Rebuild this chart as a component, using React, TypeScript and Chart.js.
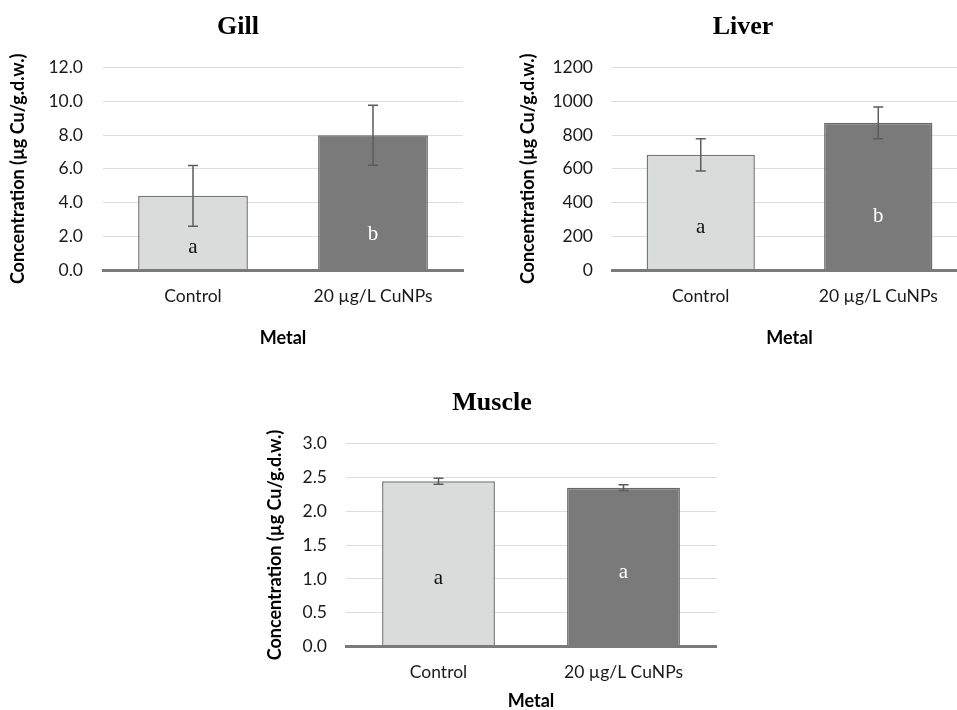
import React, { useEffect, useRef } from 'react';
import { Chart, registerables } from 'chart.js';

Chart.register(...registerables);

// ---------- data ----------
const categories = ['Control', '20 µg/L CuNPs'];
const xAxisTitle = 'Metal';
const yAxisTitle = 'Concentration (µg Cu/g.d.w.)';

const gillTitle = 'Gill';
const gillMeans = [4.4, 8.0];
const gillErrors = [1.8, 1.78];
const gillLetters = ['a', 'b'];
const gillLetterAt = [0.99, 1.78];
const gillScale = { max: 12, step: 2, decimals: 1 };

const liverTitle = 'Liver';
const liverMeans = [683, 873];
const liverErrors = [96, 94];
const liverLetters = ['a', 'b'];
const liverLetterAt = [218, 287];
const liverScale = { max: 1200, step: 200, decimals: 0 };

const muscleTitle = 'Muscle';
const muscleMeans = [2.44, 2.345];
const muscleErrors = [0.045, 0.042];
const muscleLetters = ['a', 'a'];
const muscleLetterAt = [0.925, 1.02];
const muscleScale = { max: 3, step: 0.5, decimals: 1 };

// ---------- styles ----------
const barFills = ['#dadcdb', '#7a7a7a'];
const barBorders = ['#787878', '#6a6a6a'];
const letterColors = ['#111111', '#ffffff'];
const SANS = 'Lato, "Noto Sans", sans-serif';
const SERIF = '"Liberation Serif", "Times New Roman", serif';

type Layout = {
  left: number; top: number; width: number; height: number;
  plotLeft: number; plotRight: number; plotTop: number; plotBottom: number;
  titleX: number; titleY: number; yTitleX: number; tickRight: number; xTickY: number; xTitleY: number;
};

type Spec = {
  title: string; means: number[]; errors: number[]; letters: string[]; letterAt: number[];
  scale: { max: number; step: number; decimals: number };
  layout: Layout;
};

const specs: Spec[] = [
  {
    title: gillTitle, means: gillMeans, errors: gillErrors, letters: gillLetters, letterAt: gillLetterAt, scale: gillScale,
    layout: { left: 0, top: 0, width: 478, height: 360, plotLeft: 103, plotRight: 463, plotTop: 67.7, plotBottom: 270,
      titleX: 238, titleY: 27, yTitleX: 18, tickRight: 83, xTickY: 296, xTitleY: 338 },
  },
  {
    title: liverTitle, means: liverMeans, errors: liverErrors, letters: liverLetters, letterAt: liverLetterAt, scale: liverScale,
    layout: { left: 478, top: 0, width: 489, height: 360, plotLeft: 612, plotRight: 967, plotTop: 67.7, plotBottom: 270,
      titleX: 743, titleY: 27, yTitleX: 528, tickRight: 593, xTickY: 296, xTitleY: 338 },
  },
  {
    title: muscleTitle, means: muscleMeans, errors: muscleErrors, letters: muscleLetters, letterAt: muscleLetterAt, scale: muscleScale,
    layout: { left: 250, top: 380, width: 480, height: 330, plotLeft: 346, plotRight: 716, plotTop: 443.3, plotBottom: 646.7,
      titleX: 492, titleY: 403, yTitleX: 275, tickRight: 327, xTickY: 672, xTitleY: 701.5 },
  },
];

const TITLE_SIZE = 26;
const TICK_SIZE = 17.5;
const AXIS_TITLE_SIZE = 18;

function Panel({ spec }: { spec: Spec }) {
  const ref = useRef<HTMLCanvasElement>(null);
  useEffect(() => {
    const L = spec.layout;
    const plotLeft = L.plotLeft - L.left;
    const plotRight = L.plotRight - L.left;
    const plotTop = L.plotTop - L.top;
    const plotBottom = L.plotBottom - L.top;
    const padRight = Math.max(0, L.width - plotRight);
    const innerRight = L.width - padRight;
    const padLeft = Math.max(0, 2 * (L.titleX - L.left) - innerRight);
    const titleLH = TITLE_SIZE * 1.2;
    const titleCenter = L.titleY - L.top;
    const titlePadTop = titleCenter - titleLH / 2;
    const titlePadBottom = plotTop - titlePadTop - titleLH;
    const axisLH = AXIS_TITLE_SIZE * 1.2;
    const tickLH = TICK_SIZE * 1.2;
    const yTitlePad = L.yTitleX - L.left - padLeft - axisLH / 2;
    const yTickPad = L.plotLeft - L.tickRight;
    const xTickPad = L.xTickY - L.plotBottom - tickLH / 2;
    const xTitlePad = L.top + L.height - L.xTitleY - axisLH / 2;

    const overlay = {
      id: 'errorsAndLetters',
      afterDatasetsDraw(chart: any) {
        const ctx = chart.ctx;
        const ys = chart.scales.y;
        const meta = chart.getDatasetMeta(0);
        ctx.save();
        meta.data.forEach((bar: any, i: number) => {
          const x = bar.x;
          const top = ys.getPixelForValue(spec.means[i] + spec.errors[i]);
          const bot = ys.getPixelForValue(spec.means[i] - spec.errors[i]);
          ctx.strokeStyle = '#5c5c5c';
          ctx.lineWidth = 1.5;
          ctx.beginPath();
          ctx.moveTo(x, top); ctx.lineTo(x, bot);
          ctx.moveTo(x - 5, top); ctx.lineTo(x + 5, top);
          ctx.moveTo(x - 5, bot); ctx.lineTo(x + 5, bot);
          ctx.stroke();
          ctx.fillStyle = letterColors[i];
          ctx.font = `21px ${SERIF}`;
          ctx.textAlign = 'center';
          ctx.textBaseline = 'alphabetic';
          ctx.fillText(spec.letters[i], x, ys.getPixelForValue(spec.letterAt[i]));
        });
        ctx.restore();
      },
    };

    const chart = new Chart(ref.current as HTMLCanvasElement, {
      type: 'bar',
      data: {
        labels: categories,
        datasets: [{
          data: spec.means,
          backgroundColor: barFills,
          borderColor: barBorders,
          borderWidth: 1.5,
          categoryPercentage: 1,
          barPercentage: 0.61,
        }],
      },
      options: {
        responsive: false,
        animation: false,
        devicePixelRatio: 1,
        layout: { padding: { left: padLeft, top: 0, bottom: 0, right: padRight } },
        plugins: {
          legend: { display: false },
          tooltip: { enabled: false },
          title: {
            display: true,
            text: spec.title,
            color: '#000',
            font: { family: SERIF, size: TITLE_SIZE, weight: 'bold', lineHeight: 1.2 },
            padding: { top: titlePadTop, bottom: titlePadBottom },
          },
        },
        scales: {
          x: {
            grid: { display: false, drawTicks: false },
            border: { display: true, color: '#7a7a7a', width: 3, z: 1 },
            ticks: { color: '#1a1a1a', padding: xTickPad, font: { family: SANS, size: TICK_SIZE, lineHeight: 1.2 } },
            title: {
              display: true, text: xAxisTitle, color: '#000',
              font: { family: SANS, size: AXIS_TITLE_SIZE, weight: 'bold', lineHeight: 1.2 },
              padding: { top: 0, bottom: xTitlePad },
            },
            afterFit: (s: any) => { s.height = L.height - plotBottom; },
          },
          y: {
            min: 0,
            max: spec.scale.max,
            grid: { color: '#dcdcdc', lineWidth: 1, drawTicks: false },
            border: { display: false },
            ticks: {
              stepSize: spec.scale.step,
              padding: yTickPad,
              color: '#1a1a1a',
              font: { family: SANS, size: TICK_SIZE, lineHeight: 1.2 },
              callback: (v: any) => Number(v).toFixed(spec.scale.decimals),
            },
            title: {
              display: true, text: yAxisTitle, color: '#000',
              font: { family: SANS, size: AXIS_TITLE_SIZE, weight: 'bold', lineHeight: 1.2 },
              padding: { top: yTitlePad, bottom: 0 },
            },
            afterFit: (s: any) => { s.width = plotLeft - padLeft; },
          },
        },
      } as any,
      plugins: [overlay],
    });
    return () => chart.destroy();
  }, [spec]);

  const L = spec.layout;
  return (
    <canvas
      ref={ref}
      width={L.width}
      height={L.height}
      style={{ position: 'absolute', left: L.left, top: L.top, width: L.width, height: L.height }}
    />
  );
}

export default function App() {
  return (
    <div style={{ position: 'absolute', left: 0, top: 0, width: 957, height: 710, overflow: 'hidden', background: '#fff' }}>
      {specs.map((s) => (
        <Panel key={s.title} spec={s} />
      ))}
    </div>
  );
}
